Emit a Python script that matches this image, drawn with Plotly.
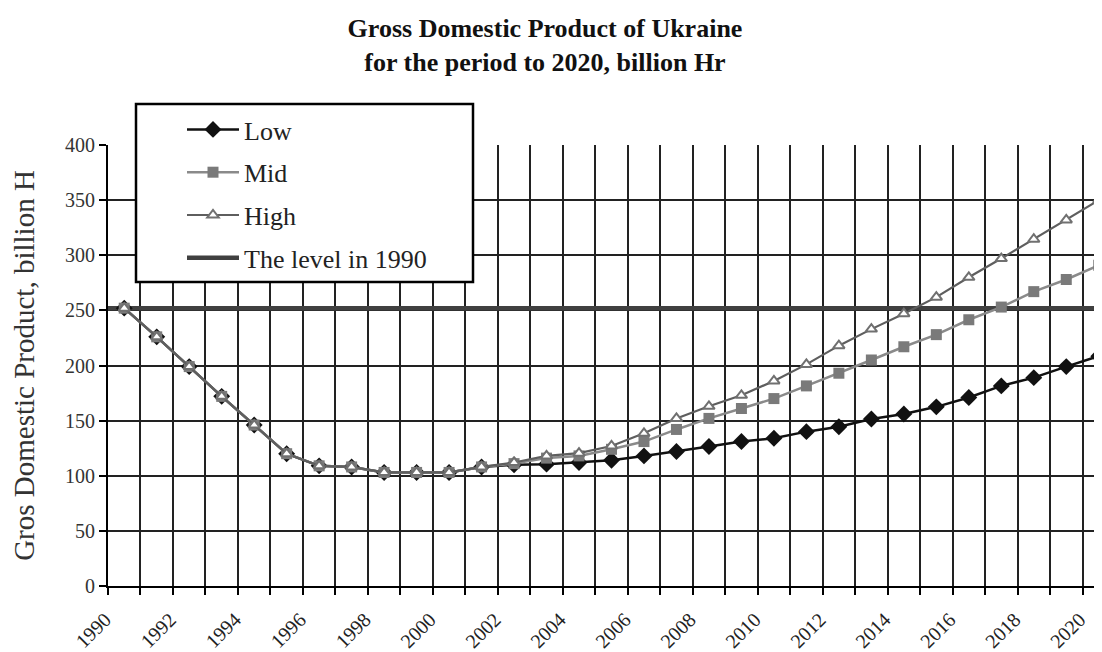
import plotly.graph_objects as go

years = list(range(1990, 2021))
common = [252, 226, 199, 172, 146, 120, 109, 108, 103, 103, 103, 108]
low_tail = [110, 110.5, 112, 114, 118, 122, 126.5, 131, 134, 140, 144.5, 151.5,
            156, 162.5, 171, 181.5, 189, 199, 208.5]
mid_tail = [111, 116, 118, 124, 131, 142, 152, 161, 170, 181.5, 193, 205, 217,
            228, 241.5, 253, 267, 278, 291]
high_tail = [112, 118, 120.5, 127, 138.5, 152, 163, 173, 186, 201, 218, 233, 247,
             262, 280, 297, 314.5, 332, 350]
low = common + low_tail
mid = common + mid_tail
high = common + high_tail
level_1990 = 252
tick_years = list(range(1990, 2021, 2))
tick_labels = [str(y) for y in tick_years]

SERIF = "Liberation Serif, Times New Roman, serif"
OFF = 8  # page body margin
W, H = 1102 - OFF, 652 - OFF
ML, MR, MT, MB = 108 - OFF, 0, 145 - OFF, 652 - 586
PW, PH = W - ML - MR, H - MT - MB


def px_x(p):
    return (p - OFF - ML) / PW


def px_y(p):
    return (H - MB - (p - OFF)) / PH


fig = go.Figure()

fig.add_trace(go.Scatter(
    x=[years[0] - 0.5, years[-1] + 0.5], y=[level_1990, level_1990],
    mode="lines", name="The level in 1990", legendrank=4, legendgroup="d",
    line=dict(color="#404040", width=4.5), hoverinfo="skip"))
fig.add_trace(go.Scatter(
    x=years, y=low, mode="lines+markers", name="Low", legendrank=1, legendgroup="a",
    line=dict(color="#111111", width=2.5),
    marker=dict(symbol="diamond", size=13, color="#111111")))
fig.add_trace(go.Scatter(
    x=years, y=mid, mode="lines+markers", name="Mid", legendrank=2, legendgroup="b",
    line=dict(color="#8a8a8a", width=2.5),
    marker=dict(symbol="square", size=11, color="#7a7a7a")))
fig.add_trace(go.Scatter(
    x=years, y=high, mode="lines+markers", name="High", legendrank=3, legendgroup="c",
    line=dict(color="#5e5e5e", width=2.2),
    marker=dict(symbol="triangle-up", size=10, color="white",
                line=dict(color="#707070", width=2))))

fig.update_layout(
    width=W, height=H,
    margin=dict(l=ML, r=MR, t=MT, b=MB, autoexpand=False),
    paper_bgcolor="white", plot_bgcolor="white",
    font=dict(family=SERIF, color="#222222"),
    title=dict(text="<b>Gross Domestic Product of Ukraine<br>for the period to 2020, billion Hr</b>",
               x=(545 - OFF) / W, xanchor="center", y=1 - (37 - OFF) / H, yanchor="top",
               yref="container",
               font=dict(size=26, color="#111111", family=SERIF)),
    showlegend=True,
    legend=dict(x=px_x(182), y=px_y(106), xanchor="left", yanchor="top",
                bgcolor="rgba(0,0,0,0)", borderwidth=0, tracegroupgap=6,
                itemwidth=52, font=dict(size=26, color="#222222", family=SERIF)),
    shapes=[dict(type="rect", xref="paper", yref="paper",
                 x0=px_x(136), x1=px_x(473), y0=px_y(282), y1=px_y(104),
                 line=dict(color="black", width=2.5), fillcolor="white", layer="above")],
)
fig.update_xaxes(
    range=[years[0] - 0.5, years[-1] + 0.1], automargin=False,
    tickmode="array", tickvals=tick_years, ticktext=tick_labels,
    tickangle=-45, ticks="", showgrid=False, zeroline=False,
    tickfont=dict(size=20, color="#222222", family=SERIF),
    ticklabelstandoff=12, ticklabelshift=-19,
    showline=True, linecolor="black", linewidth=2,
    minor=dict(tickmode="array", tickvals=[y - 0.5 for y in years] + [years[-1] + 0.5],
               ticks="outside", ticklen=7, tickcolor="black", tickwidth=1.5,
               showgrid=True, gridcolor="#222222", gridwidth=1.5),
)
fig.update_yaxes(
    range=[0, 400], dtick=50, tick0=0, ticks="outside", ticklen=7, automargin=False,
    tickcolor="black", tickwidth=1.5,
    showgrid=True, gridcolor="#222222", gridwidth=1.5, zeroline=False,
    showline=True, linecolor="black", linewidth=2,
    tickfont=dict(size=20, color="#333333", family=SERIF),
    title=dict(text="Gros Domestic Product, billion H", standoff=26,
               font=dict(size=29, color="#333333", family=SERIF)),
)

fig.write_html("out.html")
